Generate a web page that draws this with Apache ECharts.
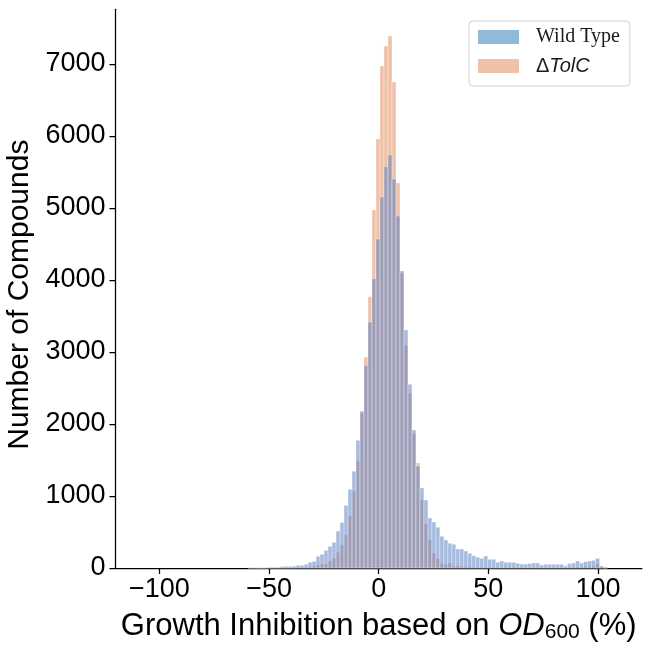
<!DOCTYPE html>
<html>
<head>
	<meta charset="utf-8">
	<title>Growth inhibition histogram</title>
	<script type="text/javascript" src="https://cdn.jsdelivr.net/npm/echarts@6/dist/echarts.min.js"></script>
	<style type="text/css">
		html, body { margin: 0; padding: 0; background: #fff; }
		#chart { width: 651px; height: 651px; }
	</style>
</head>
<body>
	<div id="chart"></div>
<script type="text/javascript">
	// histogram bins (same edges for both strains)
	var binStart = -59.47;
	var binWidth = 1.82;

	// counts per bin, left to right
	var wildType = [
		7, 0, 3, 3, 4, 9, 9, 9, 20, 23,
		23, 26, 37, 37, 51, 79, 93, 162, 190, 245,
		301, 357, 514, 634, 870, 1093, 1343, 1773, 2181, 2815,
		3417, 4018, 4569, 5153, 5574, 5736, 5403, 4889, 4125, 3306,
		2551, 1917, 1417, 1111, 944, 694, 639, 565, 440, 389,
		343, 329, 264, 264, 236, 204, 171, 148, 134, 167,
		120, 120, 79, 97, 79, 79, 79, 65, 55, 55,
		60, 69, 69, 42, 51, 51, 51, 51, 51, 32,
		60, 69, 97, 69, 88, 97, 106, 134, 28, 14
	];
	var tolC = [
		0, 7, 0, 2, 2, 3, 3, 3, 4, 4,
		5, 5, 6, 8, 10, 15, 28, 42, 56, 56,
		97, 137, 218, 319, 458, 722, 1069, 1486, 2153, 2931,
		3766, 4972, 5958, 6972, 7250, 7389, 6750, 5347, 4093, 3093,
		2426, 1861, 1458, 944, 611, 389, 206, 128, 65, 46,
		69, 28, 28, 20, 20, 20, 14, 14, 12, 12,
		12, 10, 10, 10, 9, 9, 8, 8, 8, 7,
		7, 7, 7, 6, 6, 6, 6, 6, 7, 7,
		9, 10, 14, 14, 18, 23, 25, 56, 14, 0
	];

	var xTicks = [-100, -50, 0, 50, 100];
	var yTicks = [0, 1000, 2000, 3000, 4000, 5000, 6000, 7000];

	var seriesNames = ['Wild Type', '\u0394TolC'];

	function toBins(counts) {
		var out = [];
		for (var i = 0; i < counts.length; i++) {
			var x0 = binStart + i * binWidth;
			out.push([x0, x0 + binWidth, counts[i]]);
		}
		return out;
	}

	function histSeries(name, counts, fill) {
		return {
			name: name,
			type: 'custom',
			data: toBins(counts),
			encode: { x: [0, 1], y: 2 },
			renderItem: function (params, api) {
				var p0 = api.coord([api.value(0), api.value(2)]);
				var p1 = api.coord([api.value(1), 0]);
				return {
					type: 'rect',
					shape: { x: p0[0], y: p0[1], width: p1[0] - p0[0], height: p1[1] - p0[1] },
					style: { fill: fill, stroke: 'rgba(255,255,255,0.55)', lineWidth: 0.6 }
				};
			}
		};
	}

	var sans = 'Liberation Sans, Arial, sans-serif';
	var axisBlack = { color: '#000', width: 1.25 };

	var myChart = echarts.init(document.getElementById('chart'));
	var option = {
		animation: false,
		backgroundColor: '#fff',
		grid: { left: 115.5, right: 9.1, top: 9.3, bottom: 83, containLabel: false, outerBoundsMode: 'none' },
		legend: {
			orient: 'vertical',
			left: 469,
			top: 21,
			padding: [6, 10, 10, 9],
			itemWidth: 41,
			itemHeight: 14,
			itemGap: 9,
			icon: 'rect',
			borderColor: '#d0d0d0',
			borderWidth: 1,
			borderRadius: 4,
			backgroundColor: '#fff',
			data: [
				{ name: seriesNames[0], itemStyle: { color: '#8FBBD9' } },
				{ name: seriesNames[1], itemStyle: { color: '#EEC1A8' } }
			],
			formatter: function (name) {
				return name === seriesNames[0] ? '{wt|Wild Type}' : '{d|\u0394}{it|TolC}';
			},
			textStyle: {
				rich: {
					wt: { fontFamily: 'Liberation Serif, Times New Roman, serif', fontSize: 20, color: '#1a1a1a', padding: [0, 0, 0, 12] },
					d: { fontFamily: sans, fontSize: 20, color: '#1a1a1a', padding: [0, 0, 0, 12] },
					it: { fontFamily: sans, fontStyle: 'italic', fontSize: 20, color: '#1a1a1a' }
				}
			}
		},
		xAxis: {
			type: 'value',
			min: -120,
			max: 120,
			splitLine: { show: false },
			axisLine: { show: true, onZero: false, lineStyle: axisBlack },
			axisTick: { show: true, length: 6, lineStyle: axisBlack, customValues: xTicks },
			axisLabel: {
				customValues: xTicks,
				margin: 8,
				fontFamily: sans,
				fontSize: 27,
				color: '#000',
				formatter: function (v) { return String(v).replace('-', '\u2212'); }
			},
			name: '{n|Growth Inhibition based on }{i|OD}{s|600}{n| (%)}',
			nameLocation: 'middle',
			nameGap: 41,
			nameTextStyle: {
				rich: {
					n: { fontFamily: sans, fontSize: 31, color: '#000' },
					i: { fontFamily: sans, fontStyle: 'italic', fontSize: 31, color: '#000' },
					s: { fontFamily: sans, fontSize: 21, color: '#000', padding: [13, 0, 0, 0] }
				}
			}
		},
		yAxis: {
			type: 'value',
			min: 0,
			max: 7760,
			splitLine: { show: false },
			axisLine: { show: true, onZero: false, lineStyle: axisBlack },
			axisTick: { show: true, length: 6, lineStyle: axisBlack, customValues: yTicks },
			axisLabel: {
				customValues: yTicks,
				margin: 10,
				fontFamily: sans,
				fontSize: 27,
				color: '#000',
				formatter: function (v) { return String(v); }
			},
			name: 'Number of Compounds',
			nameLocation: 'middle',
			nameGap: 73,
			nameTextStyle: { fontFamily: sans, fontSize: 30, color: '#000', padding: [0, 12, 0, 0] }
		},
		series: [
			histSeries(seriesNames[1], tolC, 'rgba(221,132,82,0.5)'),
			histSeries(seriesNames[0], wildType, 'rgba(80,120,190,0.5)')
		]
	};
	myChart.setOption(option);
</script>
</body>
</html>
